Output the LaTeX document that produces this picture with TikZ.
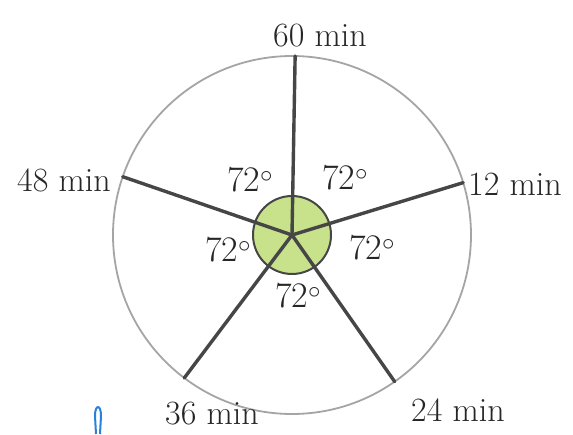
\documentclass[tikz,border=0pt]{standalone}
\usetikzlibrary{calc}
\definecolor{spoke}{RGB}{70,70,70}
\definecolor{rim}{RGB}{165,165,165}
\definecolor{hub}{RGB}{200,226,140}
\definecolor{penblue}{RGB}{40,130,220}
\tikzset{
  spokeline/.style={draw=spoke, line width=3.4pt, line cap=round},
  rimline/.style={draw=rim, line width=1.8pt},
  hubdisc/.style={circle, draw=spoke, line width=2pt, fill=hub, minimum size=78pt, inner sep=0pt},
  minlabel/.style={font=\fontsize{34}{38}\selectfont, text=black!85, inner sep=0pt},
  anglabel/.style={font=\fontsize{36}{40}\selectfont, text=black!85, inner sep=0pt}
}
\begin{document}
\begin{tikzpicture}[x=1pt,y=1pt]
\useasboundingbox (0,0) rectangle (573,434);
\fill[white] (0,0) rectangle (573,434);
\coordinate (c) at (292,199);
\draw[rimline] (c) circle (179);
\node[hubdisc] (h) at (c) {};
\coordinate (e60) at ($(c)+(89:179)$);
\coordinate (e12) at ($(c)+(17:179)$);
\coordinate (e24) at ($(c)+(-55:179)$);
\coordinate (e36) at ($(c)+(-127:179)$);
\coordinate (e48) at ($(c)+(161:179)$);
\foreach \e in {e60,e12,e24,e36,e48} \draw[spokeline] (c) -- (\e);
\node[minlabel] (l60) at (320,398) {60 min};
\node[minlabel] (l12) at (515,250) {12 min};
\node[minlabel] (l24) at (458,24) {24 min};
\node[minlabel] (l36) at (212,20) {36 min};
\node[minlabel] (l48) at (64,254) {48 min};
\node[anglabel] (a1) at (250,254) {72$^\circ$};
\node[anglabel] (a2) at (345,256) {72$^\circ$};
\node[anglabel] (a3) at (228,184) {72$^\circ$};
\node[anglabel] (a4) at (372,186) {72$^\circ$};
\node[anglabel] (a5) at (298,138) {72$^\circ$};
\draw[penblue, line width=2pt] (96,0) -- (95,18) .. controls (95,30) and (101,30) .. (101,18) -- (100,0);
\end{tikzpicture}
\end{document}
